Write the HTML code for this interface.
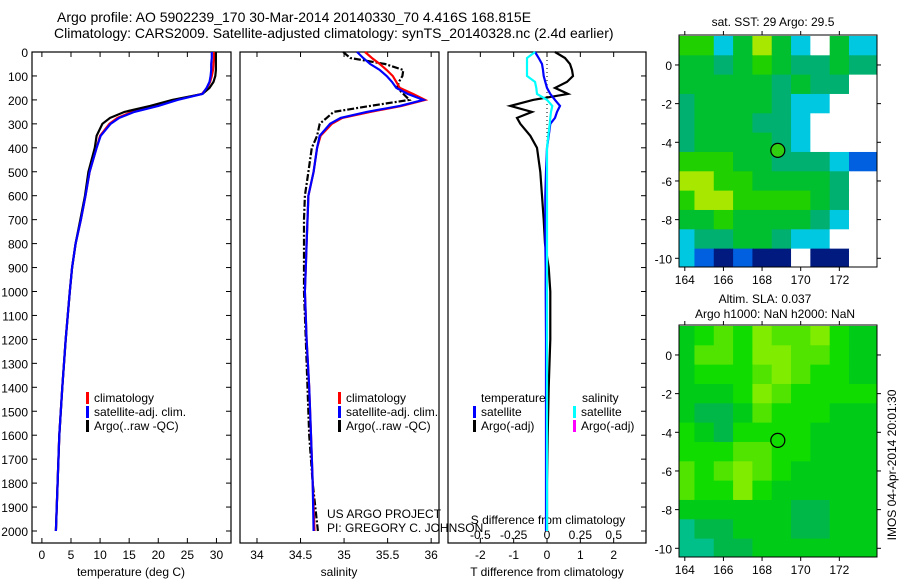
<!DOCTYPE html>
<html><head><meta charset="utf-8">
<style>
body{margin:0;background:#fff;}
svg{display:block;font-family:"Liberation Sans",sans-serif;}
text{fill:#000;}
</style></head>
<body>
<svg id="c" width="900" height="580" viewBox="0 0 900 580"></svg>
<script>
// ---------- data ----------
const depths=[0,25,50,75,100,125,150,175,200,225,250,275,300,350,400,500,600,700,800,900,1000,1200,1400,1600,1800,2000];
const tempClim=[29.6,29.6,29.5,29.4,29.2,28.9,28.4,27.5,23.0,19.6,15.5,13.0,11.6,10.0,9.4,8.2,7.5,6.7,5.8,5.2,4.8,4.1,3.5,3.0,2.7,2.4];
const tempSat=[29.2,29.2,29.1,29.1,29.0,28.8,28.3,27.6,23.3,20.0,15.9,13.3,11.8,10.1,9.4,8.2,7.5,6.7,5.8,5.2,4.8,4.1,3.5,3.0,2.7,2.4];
const tempArgo=[29.9,29.9,29.9,29.9,29.8,29.5,28.8,27.6,22.4,18.6,14.2,11.7,10.4,9.4,9.1,8.0,7.4,6.6,5.8,5.2,4.8,4.1,3.5,3.0,2.7,2.4];
const salClim=[35.24,35.32,35.41,35.49,35.56,35.60,35.64,35.79,35.93,35.66,35.30,34.98,34.86,34.73,34.69,34.65,34.59,34.58,34.57,34.56,34.55,34.57,34.60,34.62,34.64,34.66];
const salSat=[35.15,35.22,35.30,35.41,35.49,35.55,35.60,35.73,35.91,35.64,35.26,34.96,34.84,34.72,34.69,34.65,34.59,34.58,34.57,34.56,34.55,34.57,34.60,34.62,34.64,34.65];
const salArgo=[34.99,35.07,35.47,35.68,35.67,35.63,35.61,35.68,35.75,35.30,34.88,34.80,34.72,34.69,34.63,34.59,34.55,34.54,34.54,34.54,34.54,34.56,34.58,34.60,34.64,34.70];
const tDiffArgo=[0.24,0.54,0.69,0.75,0.78,0.6,0.24,0.63,-0.42,-1.1,-0.45,-0.9,-0.8,-0.5,-0.3,-0.2,-0.15,-0.1,-0.06,0.05,0.1,0.1,0.05,0.02,0.0,0.0];
const tDiffSat=[-0.36,-0.25,-0.15,-0.12,-0.1,-0.05,0.0,0.1,0.24,0.39,0.3,0.24,0.1,0.05,0.0,-0.03,-0.05,-0.05,-0.05,-0.04,-0.04,-0.03,-0.03,-0.03,-0.03,-0.03];
const sDiffSat=[-0.09,-0.15,-0.15,-0.15,-0.15,-0.09,-0.08,-0.075,0.0,0.04,0.03,0.025,0.02,0.01,0.0,0.0,0.0,0.0,0.0,0.0,0.0,0.0,0.0,0.0,0.0,0.0];
const depthTicks=[0,100,200,300,400,500,600,700,800,900,1000,1100,1200,1300,1400,1500,1600,1700,1800,1900,2000];
const tempTicks=[0,5,10,15,20,25,30];
const salTicks=[34,34.5,35,35.5,36];
const tdTicks=[-2,-1,0,1,2];
const sdTicks=[-0.5,-0.25,0,0.25,0.5];
const sdTickLabels=["-0.5","-0.25","0","0.25","0.5"];
const lonTicks=[164,166,168,170,172];
const latTicks=[0,-2,-4,-6,-8,-10];
const gridLats=[1,0,-1,-2,-3,-4,-5,-6,-7,-8,-9,-10];
const gridLons=[164,165,166,167,168,169,170,171,172,173];
const sst=[
[29.3,29.4,28.7,29.2,29.5,29.1,28.6,null,29.1,28.8],
[29.1,29.2,29.0,29.2,29.3,29.1,29.0,29.0,29.1,28.9],
[29.1,29.2,29.1,29.2,29.1,29.0,29.1,29.0,28.9,null],
[29.0,29.2,29.1,29.2,29.2,29.0,28.8,28.6,null,null],
[29.0,29.1,29.1,29.1,29.0,28.9,28.6,null,null,null],
[29.0,29.1,29.1,29.1,29.1,28.9,28.8,null,null,null],
[29.4,29.3,29.3,29.2,29.1,29.0,28.9,29.0,28.8,28.5],
[29.6,29.6,29.3,29.3,29.2,29.2,29.1,29.1,28.9,null],
[29.3,29.5,29.6,29.4,29.4,29.3,29.3,29.1,28.9,null],
[29.1,29.2,29.3,29.2,29.2,29.2,29.1,28.9,28.8,null],
[28.8,28.9,29.0,29.1,29.1,29.0,28.7,28.6,null,null],
[28.6,28.3,28.2,28.4,28.1,28.2,null,28.1,28.2,null]];
const sla=[
[0.03,0.04,0.05,0.04,0.06,0.05,0.05,0.06,0.04,0.03],
[0.03,0.05,0.05,0.04,0.06,0.06,0.05,0.05,0.04,0.03],
[0.03,0.04,0.04,0.04,0.05,0.06,0.05,0.04,0.04,0.03],
[0.03,0.03,0.03,0.04,0.06,0.05,0.04,0.04,0.04,0.04],
[0.03,0.02,0.02,0.03,0.05,0.04,0.04,0.04,0.03,0.03],
[0.04,0.03,0.02,0.04,0.04,0.04,0.04,0.03,0.03,0.03],
[0.04,0.04,0.04,0.05,0.05,0.04,0.04,0.03,0.03,0.03],
[0.05,0.04,0.05,0.06,0.05,0.04,0.03,0.03,0.03,0.03],
[0.05,0.04,0.04,0.06,0.04,0.03,0.03,0.03,0.03,0.03],
[0.03,0.03,0.03,0.03,0.03,0.03,0.02,0.02,0.03,0.03],
[0.01,0.02,0.02,0.03,0.03,0.03,0.02,0.02,0.03,0.03],
[0.0,0.0,0.02,0.02,0.03,0.03,0.03,0.03,0.03,0.03]];
const argoLon=168.815, argoLat=-4.416;

// ---------- helpers ----------
const svg=document.getElementById('c');
const NS='http://www.w3.org/2000/svg';
function el(tag,attrs,parent){const e=document.createElementNS(NS,tag);for(const k in attrs)e.setAttribute(k,attrs[k]);(parent||svg).appendChild(e);return e;}
function txt(x,y,s,attrs,parent){const t=el('text',Object.assign({x:x,y:y},attrs||{}),parent);t.textContent=s;return t;}
const Y0=52,Y1=543;
const yD=d=>Y0+d*0.2395;
function lin(d0,d1,p0,p1){return v=>p0+(v-d0)*(p1-p0)/(d1-d0);}
const xT=lin(-1.7,32.5,32,231);
const xS=lin(33.805,36.09,240,439);
const xTD=lin(-2.97,2.97,448,646);
const xSD=v=>xTD(v*4);

function profile(vals,xf,color,name,dash){
  const pts=vals.map((v,i)=>xf(v).toFixed(1)+','+yD(depths[i]).toFixed(1)).join(' ');
  const p=el('polyline',{points:pts,fill:'none',stroke:color,'stroke-width':2.2});
  if(dash)p.setAttribute('stroke-dasharray',dash);
  
  
}
function frame(x0,x1,name){
  const r=el('rect',{x:x0,y:Y0,width:x1-x0,height:Y1-Y0,fill:'none',stroke:'#000','stroke-width':1.2});
  
  
}

// titles
txt(57,22,'Argo profile: AO 5902239_170 30-Mar-2014 20140330_70 4.416S 168.815E',{'font-size':14});
txt(54,38,'Climatology: CARS2009. Satellite-adjusted climatology: synTS_20140328.nc (2.4d earlier)',{'font-size':14});

// frames
frame(32,231,'temperature-panel');
frame(240,439,'salinity-panel');
frame(448,646,'difference-panel');

// depth ticks / labels
depthTicks.forEach(d=>{
  const y=yD(d);
  const t=txt(28,y+5,String(d),{'font-size':12,'text-anchor':'end'});
  
  
  el('line',{x1:32,y1:y,x2:37,y2:y,stroke:'#000'});
  el('line',{x1:226,y1:y,x2:231,y2:y,stroke:'#000'});
  el('line',{x1:641,y1:y,x2:646,y2:y,stroke:'#000'});
});
function xTicks(ticks,xf,labels){
  ticks.forEach((v,i)=>{
    const x=xf(v);
    el('line',{x1:x,y1:Y0,x2:x,y2:Y0+5,stroke:'#000'});
    el('line',{x1:x,y1:Y1,x2:x,y2:Y1-5,stroke:'#000'});
    const t=txt(x,559,labels?labels[i]:String(v),{'font-size':12,'text-anchor':'middle'});
    
    
  });
}
xTicks(tempTicks,xT);
xTicks(salTicks,xS);
xTicks(tdTicks,xTD);
sdTicks.forEach((v,i)=>{
  const t=txt(xSD(v),539,sdTickLabels[i],{'font-size':12,'text-anchor':'middle'});
  
  
});
txt(131,576,'temperature (deg C)',{'font-size':12,'text-anchor':'middle'});
txt(339,576,'salinity',{'font-size':12,'text-anchor':'middle'});
txt(547,576,'T difference from climatology',{'font-size':12,'text-anchor':'middle'});
txt(548,524,'S difference from climatology',{'font-size':12,'text-anchor':'middle'});

// zero line in diff panel
el('line',{x1:xTD(0),y1:Y0,x2:xTD(0),y2:yD(420),stroke:'#000','stroke-dasharray':'1,3'});

// series
profile(tempClim,xT,'#ff0000','temp-climatology-line');
profile(tempArgo,xT,'#000000','temp-argo-line');
profile(tempSat,xT,'#0000ff','temp-satellite-line');
profile(salArgo,xS,'#000000','sal-argo-line','7,2,2,2');
profile(salClim,xS,'#ff0000','sal-climatology-line');
profile(salSat,xS,'#0000ff','sal-satellite-line');
profile(tDiffArgo,xTD,'#000000','tdiff-argo-line');
profile(tDiffSat,xTD,'#0000ff','tdiff-satellite-line');
profile(sDiffSat,xSD,'#00ffff','sdiff-satellite-line');

// legends
function legItem(x,y,color,label,name){
  el('rect',{x:x,y:y-10,width:3,height:12,fill:color});
  const t=txt(x+8,y,label,{'font-size':12});
  
  
}
legItem(86,402,'#ff0000','climatology','legend-entry-climatology');
legItem(86,416,'#0000ff','satellite-adj. clim.','legend-entry-satellite');
legItem(86,430,'#000000','Argo(..raw -QC)','legend-entry-argo');
legItem(338,402,'#ff0000','climatology','legend-entry-climatology-2');
legItem(338,416,'#0000ff','satellite-adj. clim.','legend-entry-satellite-2');
legItem(338,430,'#000000','Argo(..raw -QC)','legend-entry-argo-2');
txt(481,402,'temperature',{'font-size':12});
txt(582,402,'salinity',{'font-size':12});
legItem(473,416,'#0000ff','satellite','legend-entry-tdiff-satellite');
legItem(473,430,'#000000','Argo(-adj)','legend-entry-tdiff-argo');
legItem(573,416,'#00ffff','satellite','legend-entry-sdiff-satellite');
legItem(573,430,'#ff00ff','Argo(-adj)','legend-entry-sdiff-argo');
txt(327,518,'US ARGO PROJECT',{'font-size':12});
txt(327,532,'PI: GREGORY C. JOHNSON',{'font-size':12});

// ---------- maps ----------
function sstColor(v){
  if(v===null)return '#ffffff';
  const stops=[[28.0,'#001a80'],[28.3,'#0060e0'],[28.6,'#00c8e0'],[28.9,'#00b070'],[29.1,'#00c030'],[29.3,'#20d000'],[29.5,'#a8e800'],[29.7,'#f0e800']];
  let c=stops[0][1];for(const s of stops)if(v>=s[0])c=s[1];return c;
}
function slaColor(v){
  const stops=[[0.0,'#00c08a'],[0.015,'#00b848'],[0.025,'#00cc18'],[0.035,'#10dc00'],[0.045,'#50e400'],[0.055,'#80ec00']];
  let c=stops[0][1];for(const s of stops)if(v>=s[0])c=s[1];return c;
}
function drawMap(top,grid,colorFn,name,filledCircle){
  const X0=679,X1=877,H=232;
  const xL=lin(163.7,173.95,X0,X1), yL=lin(1.55,-10.45,top,top+H);
  const g=el('g',{});
  
  
  const cp=el('clipPath',{id:name+'-clip'},g);
  el('rect',{x:X0,y:top,width:X1-X0,height:H},cp);
  const cells=el('g',{'clip-path':'url(#'+name+'-clip)'},g);
  grid.forEach((row,i)=>row.forEach((v,j)=>{
    const lon=gridLons[j],lat=gridLats[i];
    const x=xL(lon-0.5),y=yL(lat+0.5);
    const w=(j===row.length-1)?xL(lon+1.5)-x:xL(lon+0.5)-x+0.5;
    const r=el('rect',{x:x,y:y,width:w,height:yL(lat-0.5)-y+0.5,fill:colorFn(v)},cells);
    
  }));
  el('rect',{x:X0,y:top,width:X1-X0,height:H,fill:'none',stroke:'#000'},g);
  lonTicks.forEach(l=>{
    const x=xL(l);
    el('line',{x1:x,y1:top,x2:x,y2:top-4,stroke:'#000'},g);
    el('line',{x1:x,y1:top+H,x2:x,y2:top+H+4,stroke:'#000'},g);
    const t=txt(x,top+H+17,String(l),{'font-size':12,'text-anchor':'middle'},g);
    
  });
  latTicks.forEach(l=>{
    const y=yL(l);
    el('line',{x1:X0,y1:y,x2:X0-4,y2:y,stroke:'#000'},g);
    el('line',{x1:X1,y1:y,x2:X1+4,y2:y,stroke:'#000'},g);
    const t=txt(X0-7,y+5,String(l),{'font-size':12,'text-anchor':'end'},g);
    
  });
  const c=el('circle',{cx:xL(argoLon),cy:yL(argoLat),r:7,fill:filledCircle?'#30d010':'none',stroke:'#000','stroke-width':1.2},g);
  
}
drawMap(35,sst,sstColor,'sst-map',true);
drawMap(325,sla,slaColor,'sla-map',false);
txt(773,26,'sat. SST: 29 Argo: 29.5',{'font-size':12,'text-anchor':'middle'});
txt(765,303,'Altim. SLA: 0.037',{'font-size':12,'text-anchor':'middle'});
txt(775,318,'Argo h1000: NaN h2000: NaN',{'font-size':12,'text-anchor':'middle'});
txt(0,0,'IMOS 04-Apr-2014 20:01:30',{'font-size':12,'text-anchor':'middle',transform:'translate(896,465) rotate(-90)'});
</script>
</body></html>
